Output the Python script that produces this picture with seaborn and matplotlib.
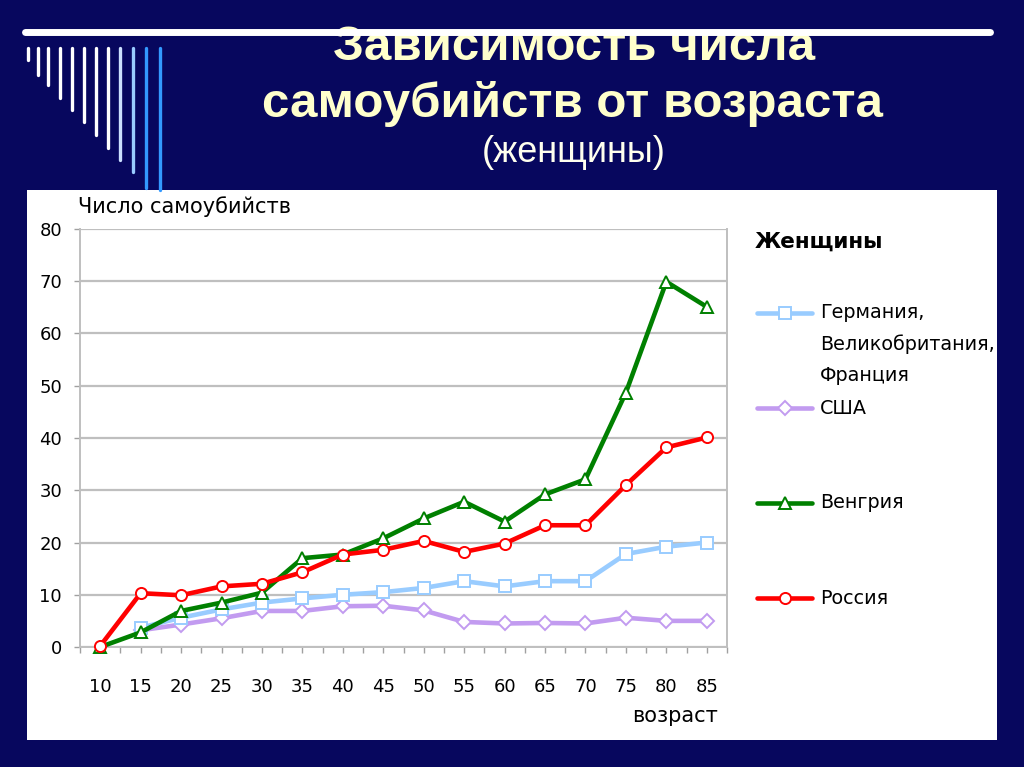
# Suicide rate by age (women) - slide recreation
import numpy as np
import pandas as pd
import matplotlib
matplotlib.use('Agg')
import matplotlib.pyplot as plt
import seaborn as sns
from matplotlib.lines import Line2D
from matplotlib.patches import Rectangle

# data
ages = [10, 15, 20, 25, 30, 35, 40, 45, 50, 55, 60, 65, 70, 75, 80, 85]
germany = [np.nan, 3.7, 5.6, 7.2, 8.5, 9.3, 10.0, 10.5, 11.3, 12.6, 11.6, 12.6, 12.6, 17.8, 19.2, 20.0]
usa = [np.nan, 3.2, 4.3, 5.5, 6.9, 6.9, 7.8, 7.9, 7.0, 4.8, 4.5, 4.6, 4.5, 5.6, 5.0, 5.0]
hungary = [0, 2.8, 6.9, 8.5, 10.4, 17.0, 17.7, 20.8, 24.6, 27.8, 24.0, 29.2, 32.1, 48.7, 69.9, 65.1]
russia = [0.2, 10.3, 9.9, 11.6, 12.1, 14.3, 17.7, 18.6, 20.3, 18.2, 19.8, 23.3, 23.3, 31.0, 38.2, 40.1]

labels = ['Германия,\nВеликобритания,\nФранция', 'США', 'Венгрия', 'Россия']
colors = ['#99CCFF', '#C29BF0', '#008000', '#FF0000']
markers = ['s', 'D', '^', 'o']
y_ticks = [0, 10, 20, 30, 40, 50, 60, 70, 80]

title_1 = 'Зависимость числа'
title_2 = 'самоубийств от возраста'
title_3 = '(женщины)'

df = pd.DataFrame({'age': ages, 'ger': germany, 'usa': usa, 'hun': hungary, 'rus': russia})

sns.set_style('white')
plt.rcParams['font.family'] = ['DejaVu Sans']
plt.rcParams['text.color'] = 'black'
plt.rcParams['xtick.labelcolor'] = 'black'
plt.rcParams['ytick.labelcolor'] = 'black'

W, H = 1024, 767
fig = plt.figure(figsize=(10.24, 7.67), dpi=100)
fig.patch.set_facecolor('#07075E')

# slide decoration: top line and the comb of vertical lines
fig.add_artist(Line2D([25 / W, 990 / W], [1 - 32 / H] * 2, color='white', lw=5,
                      transform=fig.transFigure, zorder=5))
comb_x = [28, 38, 48, 60, 72, 84, 96, 108, 120, 133, 146, 160]
comb_end = [60, 75, 85, 98, 110, 122, 135, 148, 160, 172, 188, 190]
comb_col = ['white'] * 8 + ['#CCE0FF', '#99CCFF', '#3399FF', '#3399FF']
for cx, ce, cc in zip(comb_x, comb_end, comb_col):
    fig.add_artist(Line2D([cx / W] * 2, [1 - 48 / H, 1 - ce / H], color=cc, lw=2.4, transform=fig.transFigure))

# white chart panel
fig.add_artist(Rectangle((27 / W, 1 - 740 / H), 970 / W, 550 / H, facecolor='white',
                         edgecolor='none', transform=fig.transFigure, zorder=1))

# titles
fig.text(574 / W, 1 - 47 / H, title_1, color='#FFFFCC', fontsize=35.5, fontweight='bold',
         family='Liberation Sans', ha='center', va='center', zorder=0)
fig.text(572 / W, 1 - 104 / H, title_2, color='#FFFFCC', fontsize=35.5, fontweight='bold',
         family='Liberation Sans', ha='center', va='center')
fig.text(574 / W, 1 - 153 / H, title_3, color='#FFFFEE', fontsize=26,
         family='Liberation Sans', ha='center', va='center')

ax = fig.add_axes([80 / W, 1 - 647 / H, 647 / W, 418 / H])
ax.set_facecolor('white')
ax.set_zorder(2)

# lines (USA under Germany, Russia on top)
for col, color, marker in [('usa', colors[1], markers[1]), ('ger', colors[0], markers[0]),
                           ('hun', colors[2], markers[2]), ('rus', colors[3], markers[3])]:
    sns.lineplot(data=df.dropna(subset=[col]), x='age', y=col, ax=ax, color=color, lw=3.3,
                 marker=marker, markersize=8 if marker != 'D' else 7, markerfacecolor='white',
                 markeredgecolor=color, markeredgewidth=1.4, clip_on=False, zorder=3)

ax.set_xlim(7.5, 87.5)
ax.set_ylim(0, 80)
ax.set_xticks(ages)
ax.set_xticks(np.arange(7.5, 88, 2.5), minor=True)
ax.set_yticks(y_ticks)
ax.tick_params(axis='x', which='both', direction='out', length=4, width=1, color='#A0A0A0',
               labelsize=13, pad=18, bottom=True, labelcolor='black')
ax.tick_params(axis='y', direction='out', length=4, width=1, color='#A0A0A0', labelsize=13, pad=9,
               left=True, labelcolor='black')
ax.grid(axis='y', color='#BFBFBF', lw=1.6)
ax.set_axisbelow(True)
for s in ['left', 'bottom', 'right']:
    ax.spines[s].set_color('#BFBFBF')
    ax.spines[s].set_linewidth(1.4)
ax.spines['top'].set_visible(False)
ax.set_xlabel('')
ax.set_ylabel('')

fig.text(78 / W, 1 - 207 / H, 'Число самоубийств', fontsize=15, ha='left', va='center', zorder=3)
fig.text(718 / W, 1 - 716 / H, 'возраст', fontsize=15, ha='right', va='center', zorder=3)

# legend drawn by hand to keep the uneven spacing
fig.text(755 / W, 1 - 242 / H, 'Женщины', fontsize=15.5, fontweight='bold', ha='left', va='center', zorder=3)
leg_y = [313, 408, 503, 598]
for lab, color, marker, ly in zip(labels, colors, markers, leg_y):
    yy = 1 - ly / H
    fig.add_artist(Line2D([757 / W, 812 / W], [yy, yy], color=color, lw=3.3, transform=fig.transFigure, zorder=3))
    fig.add_artist(Line2D([784.5 / W], [yy], marker=marker, markersize=8 if marker != 'D' else 7,
                          markerfacecolor='white', markeredgecolor=color, markeredgewidth=1.4,
                          transform=fig.transFigure, zorder=4))
    for k, part in enumerate(lab.split('\n')):
        fig.text(820 / W, 1 - (ly + 31 * k) / H, part, fontsize=13.8, ha='left', va='center', zorder=3)

fig.savefig('out.png', dpi=100, facecolor=fig.get_facecolor())
